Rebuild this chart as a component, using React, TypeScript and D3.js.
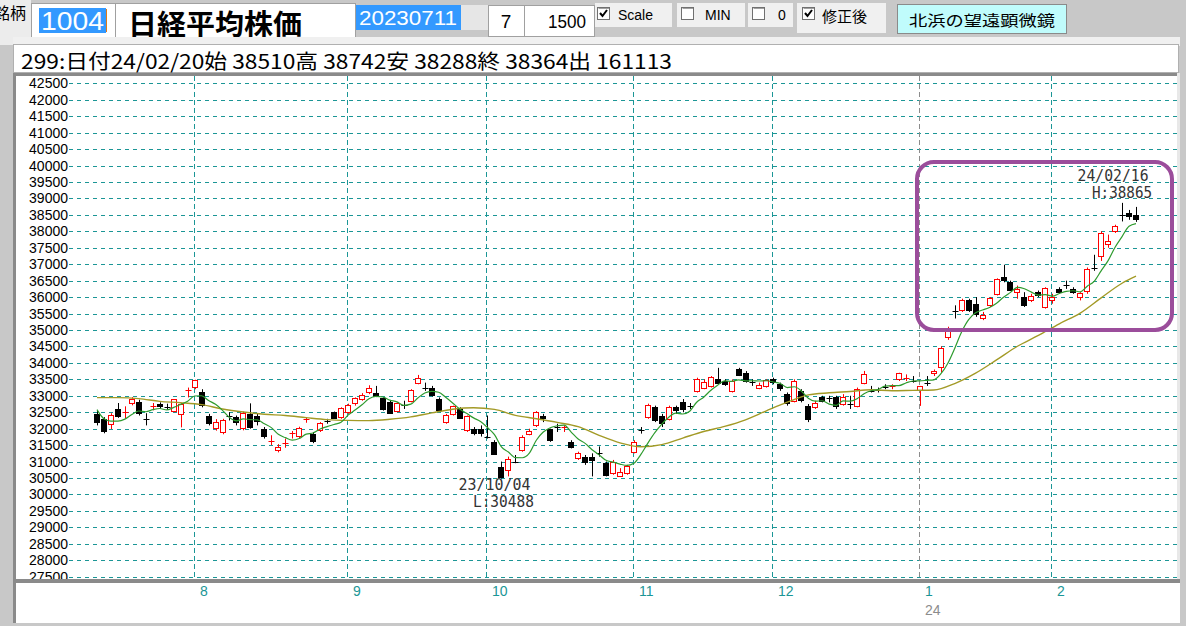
import React from 'react';
import * as d3 from 'd3';

// daily candles, 2023/07/11 .. 2024/02/20 (150 sessions)
const opens = [
  32460, 32300, 32150, 32600, 32440, 32780, 32800, 32350, 32690, 32750,
  32710, 32540, 32440, 33120, 33270, 33100, 32400, 32010, 31900, 32400,
  32340, 32020, 32460, 32400, 32000, 31600, 31340, 31550, 31800, 31770,
  32230, 31850, 31950, 32250, 32500, 32350, 32510, 32780, 32890, 33100,
  33080, 32920, 32800, 32550, 32760, 32850, 33400, 33300, 33250, 32900,
  32200, 32450, 32600, 31950, 32000, 32000, 31800, 31600, 30820, 30730,
  31050, 31360, 31850, 32100, 32380, 31990, 32080, 31990, 31600, 31100,
  31150, 31150, 31300, 30950, 30650, 30550, 30650, 31300, 32000, 32350,
  32650, 32400, 32300, 32650, 32800, 32720, 33150, 33250, 33300, 33500,
  33450, 33150, 33800, 33700, 33450, 33250, 33300, 33500, 33350, 33050,
  32850, 33150, 32700, 32650, 32950, 32950, 32950, 32750, 32800, 32700,
  33400, 33200, 33200, 33300, 33250, 33500, 33500, 33500, 33190, 33400,
  33700, 33870, 34800, 35600, 35600, 35900, 35800, 35350, 35750, 36100,
  36600, 36450, 36150, 36000, 35900, 36150, 35700, 35900, 36250, 36400,
  36250, 36000, 36200, 36950, 37250, 37600, 38000, 38500, 38550, 38510,
];
const highs = [
  32560, 32350, 32470, 32780, 32680, 32960, 32880, 32470, 32780, 32800,
  32760, 32900, 32780, 33250, 33488, 33200, 32450, 32290, 32300, 32500,
  32400, 32520, 32770, 32450, 32050, 31800, 31530, 31700, 31930, 32060,
  32340, 31900, 32200, 32300, 32520, 32650, 32760, 32950, 33080, 33320,
  33300, 32950, 32850, 32800, 32850, 33200, 33634, 33400, 33300, 32950,
  32450, 32700, 32650, 32400, 32050, 32100, 32400, 31650, 31000, 31150,
  31200, 31800, 32000, 32533, 32450, 32000, 32150, 32100, 31650, 31300,
  31200, 31250, 31460, 31000, 31050, 30800, 30900, 31650, 32050, 32760,
  32700, 32450, 32700, 32700, 32900, 32780, 33550, 33500, 33600, 33850,
  33500, 33500, 33850, 33750, 33500, 33400, 33500, 33550, 33400, 33100,
  33500, 33200, 32750, 32850, 33000, 33000, 33000, 33050, 33000, 33250,
  33755, 33300, 33250, 33350, 33350, 33700, 33650, 33600, 33300, 33600,
  33800, 34500, 35100, 35750, 35950, 35950, 36000, 35550, 36000, 36570,
  36984, 36500, 36350, 36150, 36100, 36200, 36300, 36100, 36300, 36500,
  36300, 36150, 36900, 37287, 38000, 37900, 38200, 38865, 38650, 38742,
];
const lows = [
  32100, 31860, 31990, 32330, 32310, 32710, 32400, 32100, 32560, 32600,
  32570, 32500, 32040, 32950, 33200, 32650, 32100, 31940, 31830, 32250,
  32100, 31950, 32000, 32100, 31700, 31500, 31280, 31420, 31700, 31700,
  32180, 31560, 31900, 32150, 32300, 32300, 32450, 32700, 32850, 33050,
  32960, 32550, 32450, 32500, 32600, 32800, 33350, 33150, 32980, 32550,
  32150, 32400, 32300, 31900, 31800, 31760, 31700, 31200, 30488, 30550,
  30950, 31300, 31800, 32050, 32200, 31600, 31900, 31900, 31400, 31050,
  30900, 30550, 31150, 30550, 30600, 30540, 30600, 31250, 31850, 32300,
  32200, 32050, 32250, 32450, 32500, 32600, 33100, 33200, 33250, 33350,
  33300, 33100, 33600, 33400, 33300, 33200, 33250, 33350, 33150, 32700,
  32800, 32800, 32200, 32600, 32800, 32800, 32600, 32700, 32600, 32650,
  33350, 33100, 33100, 33200, 33200, 33450, 33450, 33400, 32693, 33300,
  33600, 33700, 34700, 35350, 35550, 35550, 35400, 35300, 35700, 36050,
  36450, 36200, 35950, 35700, 35850, 36000, 35650, 35800, 36100, 36250,
  36100, 35900, 36100, 36800, 37100, 37500, 37950, 38300, 38350, 38288,
];
const closes = [
  32203, 31943, 32419, 32391, 32493, 32896, 32490, 32304, 32700, 32682,
  32668, 32891, 32759, 33172, 33476, 32707, 32159, 32192, 32254, 32377,
  32204, 32473, 32059, 32238, 31766, 31626, 31450, 31565, 31856, 32010,
  32287, 31624, 32169, 32226, 32333, 32619, 32710, 32939, 33036, 33241,
  32991, 32606, 32467, 32776, 32707, 33168, 33533, 33242, 33023, 32571,
  32402, 32678, 32315, 32371, 31872, 31857, 31759, 31237, 30526, 31075,
  30994, 31746, 31936, 32494, 32315, 31659, 32040, 32042, 31430, 31259,
  30999, 31062, 31269, 30601, 30991, 30696, 30858, 31601, 31949, 32708,
  32271, 32166, 32646, 32568, 32585, 32695, 33519, 33424, 33585, 33388,
  33354, 33451, 33625, 33447, 33408, 33321, 33486, 33431, 33231, 32775,
  33445, 32858, 32307, 32791, 32843, 32926, 32686, 32970, 32758, 33219,
  33675, 33141, 33169, 33254, 33305, 33681, 33539, 33464, 33288, 33377,
  33763, 34441, 35049, 35577, 35901, 35619, 35477, 35466, 35963, 36546,
  36517, 36226, 36236, 35751, 36026, 36065, 36286, 36011, 36158, 36354,
  36160, 36119, 36863, 36897, 37963, 37703, 38157, 38487, 38470, 38364,
];

// short moving average (green), one value per session
const ma5 = [
  32578, 32299, 32228, 32229, 32290, 32428, 32538, 32515, 32577, 32614,
  32569, 32649, 32740, 32834, 32993, 33001, 32855, 32741, 32558, 32338,
  32237, 32300, 32273, 32270, 32148, 32032, 31828, 31729, 31653, 31701,
  31834, 31868, 31989, 32063, 32128, 32194, 32411, 32565, 32727, 32909,
  32983, 32963, 32868, 32816, 32709, 32745, 32930, 33085, 33135, 33107,
  32954, 32783, 32598, 32467, 32328, 32219, 32035, 31819, 31450, 31291,
  31118, 31116, 31255, 31649, 31897, 32030, 32089, 32110, 31897, 31686,
  31554, 31358, 31204, 31038, 30984, 30924, 30883, 30949, 31219, 31562,
  31877, 32139, 32348, 32472, 32447, 32532, 32803, 32958, 33162, 33322,
  33454, 33440, 33481, 33453, 33457, 33450, 33457, 33419, 33375, 33249,
  33274, 33148, 32923, 32835, 32849, 32745, 32711, 32843, 32837, 32912,
  33062, 33153, 33192, 33292, 33309, 33310, 33390, 33449, 33455, 33470,
  33486, 33667, 33984, 34441, 34946, 35317, 35525, 35608, 35685, 35814,
  35994, 36144, 36298, 36255, 36151, 36061, 36073, 36028, 36109, 36175,
  36194, 36160, 36331, 36479, 36800, 37109, 37517, 37841, 38156, 38236,
];

// long moving average (olive), read every third session
const ma25Index = [
  0, 3, 6, 9, 12, 15, 18, 21, 24, 27, 30, 33, 36, 39, 42, 45, 48, 51, 54, 57,
  60, 63, 66, 69, 72, 75, 78, 81, 84, 87, 90, 93, 96, 99, 102, 105, 108, 111,
  114, 117, 120, 123, 126, 129, 132, 135, 138, 141, 144, 147, 149,
];
const ma25Value = [
  32945, 32945, 32915, 32830, 32790, 32731, 32598, 32506, 32440, 32400,
  32335, 32276, 32252, 32245, 32285, 32358, 32479, 32591, 32636, 32587,
  32404, 32303, 32191, 32062, 31797, 31569, 31451, 31517, 31715, 31914,
  32068, 32269, 32544, 32807, 33026, 33091, 33132, 33182, 33155, 33165,
  33175, 33372, 33689, 34090, 34506, 34834, 35189, 35514, 35977, 36421,
  36635,
];

const priceTicks = [
  42500, 42000, 41500, 41000, 40500, 40000, 39500, 39000, 38500, 38000,
  37500, 37000, 36500, 36000, 35500, 35000, 34500, 34000, 33500, 33000,
  32500, 32000, 31500, 31000, 30500, 30000, 29500, 29000, 28500, 28000, 27500,
];
const monthLabels = ['8', '9', '10', '11', '12', '1', '2'];
const monthStartIndex = [14, 36, 56, 77, 97, 118, 137];
const yearLabel = '24';
const yearStartIndex = 118;

const highIndex = 147;
const highDate = '24/02/16';
const highText = 'H:38865';
const lowIndex = 58;
const lowDate = '23/10/04';
const lowText = 'L:30488';

const infoLine = '299:日付24/02/20始 38510高 38742安 38288終 38364出 161113';

const W = 1186;
const H = 626;
const PLOT = { left: 16, top: 76, right: 1177, bottom: 579 };
const TEAL = '#1b9696';
const JP = '"Noto Sans CJK JP", sans-serif';
const SANS = '"Liberation Sans", Arial, sans-serif';
const MONO = '"DejaVu Sans Mono", monospace';

const xs = d3.scaleLinear().domain([0, 149]).range([97, 1136]);
const ys = d3.scaleLinear().domain([27500, 42500]).range([576.7, 83.3]);

function CheckBox({ x, y, checked }: { x: number; y: number; checked: boolean }) {
  return (
    <g>
      <rect x={x + 0.5} y={y + 0.5} width={12} height={12} fill="#fff" stroke="#707070" />
      <line x1={x + 1.5} y1={y + 1.5} x2={x + 12} y2={y + 1.5} stroke="#a0a0a0" />
      {checked && (
        <path d={`M${x + 3},${y + 6} L${x + 5.5},${y + 9} L${x + 10},${y + 3}`} fill="none" stroke="#000" strokeWidth={2} />
      )}
    </g>
  );
}

function Candle({ i }: { i: number }) {
  const o = opens[i], h = highs[i], l = lows[i], c = closes[i];
  const cx = Math.round(xs(i)) + 0.5;
  const up = c > o;
  const color = up ? '#ff0000' : '#000000';
  const top = ys(Math.max(o, c));
  const bot = ys(Math.min(o, c));
  const hy = ys(h);
  const ly = ys(l);
  if (bot - top < 2) {
    const yc = Math.round(ys(c)) + 0.5;
    return (
      <g stroke={color} strokeWidth={1}>
        <line x1={cx} y1={hy} x2={cx} y2={ly} />
        <line x1={cx - 3} y1={yc} x2={cx + 3} y2={yc} />
      </g>
    );
  }
  const ty = Math.round(top) + 0.5;
  const by = Math.round(bot) + 0.5;
  return (
    <g stroke={color} strokeWidth={1}>
      <line x1={cx} y1={hy} x2={cx} y2={ty} />
      <line x1={cx} y1={by} x2={cx} y2={ly} />
      <rect x={cx - 3} y={ty} width={5} height={by - ty} fill={up ? '#ffffff' : '#000000'} />
    </g>
  );
}

export default function App() {
  const green = d3.line<number>()
    .x((_, i) => xs(i))
    .y((d) => ys(d))
    .curve(d3.curveMonotoneX)(ma5) as string;

  const olive = d3.line<number>()
    .x((_, i) => xs(ma25Index[i]))
    .y((d) => ys(d))
    .curve(d3.curveMonotoneX)(ma25Value) as string;

  const hx = xs(highIndex);
  const hy = ys(highs[highIndex]);
  const lx = xs(lowIndex);
  const ly = ys(lows[lowIndex]);

  return (
    <div style={{ position: 'fixed', left: 0, top: 0, width: W, height: H }}>
      <svg width={W} height={H} viewBox={`0 0 ${W} ${H}`} style={{ display: 'block' }}>
        <defs>
          <clipPath id="plot">
            <rect x={PLOT.left} y={PLOT.top} width={PLOT.right - PLOT.left} height={PLOT.bottom - PLOT.top} />
          </clipPath>
        </defs>

        {/* window chrome */}
        <rect x={0} y={0} width={W} height={H} fill="#c8c8c8" />
        <rect x={0} y={0} width={31} height={45} fill="#ececec" />
        <text x={-6} y={12} fontFamily={JP} fontSize={16} fill="#000" dominantBaseline="central">銘柄</text>

        <rect x={31.5} y={3.5} width={84} height={41} fill="#fff" stroke="#a0a0a0" />
        <rect x={39} y={8} width={67} height={25} fill="#3399ff" />
        <text x={41} y={21} fontFamily={SANS} fontSize={26} fill="#fff" dominantBaseline="central" textLength={63} lengthAdjust="spacingAndGlyphs">1004</text>
        <line x1={106.5} y1={9} x2={106.5} y2={32} stroke="#e07818" />
        <rect x={115.5} y={3.5} width={240} height={41} fill="#fff" stroke="#a0a0a0" />
        <text x={128} y={23} fontFamily={JP} fontSize={28} fontWeight="bold" fill="#000" dominantBaseline="central" textLength={174} lengthAdjust="spacingAndGlyphs">日経平均株価</text>

        <rect x={356} y={5} width={105} height={25} fill="#3399ff" />
        <rect x={461} y={5} width={27} height={25} fill="#e6e6e6" />
        <text x={359} y={18} fontFamily={SANS} fontSize={20} fill="#fff" dominantBaseline="central" textLength={98} lengthAdjust="spacingAndGlyphs">20230711</text>
        <rect x={488.5} y={5.5} width={36} height={31} fill="#fff" stroke="#a0a0a0" />
        <rect x={524.5} y={5.5} width={70} height={31} fill="#fff" stroke="#a0a0a0" />
        <text x={506} y={21} fontFamily={SANS} fontSize={19} fill="#000" textAnchor="middle" dominantBaseline="central">7</text>
        <text x={567} y={21} fontFamily={SANS} fontSize={19} fill="#000" textAnchor="middle" dominantBaseline="central" textLength={38} lengthAdjust="spacingAndGlyphs">1500</text>

        <rect x={595} y={3} width={77} height={24} fill="#f0f0f0" />
        <CheckBox x={597} y={7} checked />
        <text x={618} y={15} fontFamily={SANS} fontSize={14} fill="#000" dominantBaseline="central">Scale</text>
        <rect x={677} y={3} width={68} height={24} fill="#f0f0f0" />
        <CheckBox x={681} y={7} checked={false} />
        <text x={705} y={15} fontFamily={SANS} fontSize={14} fill="#000" dominantBaseline="central">MIN</text>
        <rect x={748} y={3} width={45} height={24} fill="#f0f0f0" />
        <CheckBox x={752} y={7} checked={false} />
        <text x={778} y={15} fontFamily={SANS} fontSize={14} fill="#000" dominantBaseline="central">0</text>
        <rect x={797} y={3} width={89} height={30} fill="#f0f0f0" />
        <CheckBox x={802} y={7} checked />
        <text x={822} y={15} fontFamily={JP} fontSize={15} fill="#000" dominantBaseline="central">修正後</text>
        <rect x={897.5} y={4.5} width={169} height={29} fill="#c0fcfc" stroke="#8a8a8a" />
        <text x={982} y={19} fontFamily={JP} fontSize={15} fill="#000" textAnchor="middle" dominantBaseline="central" textLength={146} lengthAdjust="spacingAndGlyphs">北浜の望遠顕微鏡</text>

        {/* info line */}
        <rect x={13} y={37} width={1167} height={9} fill="#f0f0f0" />
        <rect x={13.5} y={44.5} width={1165} height={28} fill="#fff" stroke="#b0b0b0" />
        <text x={21} y={60} fontFamily={JP} fontSize={20} fill="#000" dominantBaseline="central" textLength={651} lengthAdjust="spacingAndGlyphs">{infoLine}</text>

        {/* chart frame */}
        <rect x={13} y={73} width={1167} height={510} fill="#fff" />
        <rect x={13} y={73} width={1167} height={3} fill="#8a8a8a" />
        <rect x={13} y={73} width={3} height={510} fill="#8a8a8a" />
        <rect x={1177} y={73} width={3} height={510} fill="#e8e8e8" />

        <g clipPath="url(#plot)">
          {priceTicks.map((t) => (
            <g key={t}>
              <line x1={69} x2={PLOT.right} y1={Math.round(ys(t)) + 0.5} y2={Math.round(ys(t)) + 0.5} stroke={TEAL} strokeDasharray="4,4" />
              <text x={68} y={ys(t)} fontFamily={SANS} fontSize={14} fill="#000" textAnchor="end" dominantBaseline="central">{t}</text>
            </g>
          ))}
          {monthStartIndex.map((m, k) => (
            <line key={k} x1={Math.round(xs(m)) - 0.5} x2={Math.round(xs(m)) - 0.5} y1={PLOT.top} y2={PLOT.bottom}
              stroke={m === yearStartIndex ? '#8c8c8c' : TEAL} strokeDasharray="5,3" />
          ))}

          {closes.map((_, i) => <Candle key={i} i={i} />)}

          <path d={olive} fill="none" stroke="#a39a26" strokeWidth={1.4} />
          <path d={green} fill="none" stroke="#2e9b2e" strokeWidth={1.2} />

          <text x={hx - 9} y={hy - 27} fontFamily={MONO} fontSize={16} fill="#333" textAnchor="middle" dominantBaseline="central" textLength={71} lengthAdjust="spacingAndGlyphs">{highDate}</text>
          <text x={hx} y={hy - 10} fontFamily={MONO} fontSize={16} fill="#333" textAnchor="middle" dominantBaseline="central" textLength={60} lengthAdjust="spacingAndGlyphs">{highText}</text>
          <text x={lx - 7} y={ly + 6} fontFamily={MONO} fontSize={16} fill="#333" textAnchor="middle" dominantBaseline="central" textLength={72} lengthAdjust="spacingAndGlyphs">{lowDate}</text>
          <text x={lx + 2} y={ly + 23} fontFamily={MONO} fontSize={16} fill="#333" textAnchor="middle" dominantBaseline="central" textLength={61} lengthAdjust="spacingAndGlyphs">{lowText}</text>
        </g>

        <rect x={917} y={162} width={255} height={168} rx={17} ry={17} fill="none" stroke="#9b4d9b" strokeWidth={4} />

        {/* month axis panel */}
        <rect x={13} y={579} width={1167} height={4} fill="#8a8a8a" />
        <rect x={13} y={583} width={1167} height={40} fill="#fff" />
        <rect x={13} y={583} width={3} height={40} fill="#8a8a8a" />
        {monthStartIndex.map((m, k) => (
          <text key={k} x={Math.round(xs(m)) + 5} y={591} fontFamily={SANS} fontSize={14} fill={TEAL} dominantBaseline="central">{monthLabels[k]}</text>
        ))}
        <text x={Math.round(xs(yearStartIndex)) + 5} y={610} fontFamily={SANS} fontSize={14} fill="#8c8c8c" dominantBaseline="central">{yearLabel}</text>
      </svg>
    </div>
  );
}
